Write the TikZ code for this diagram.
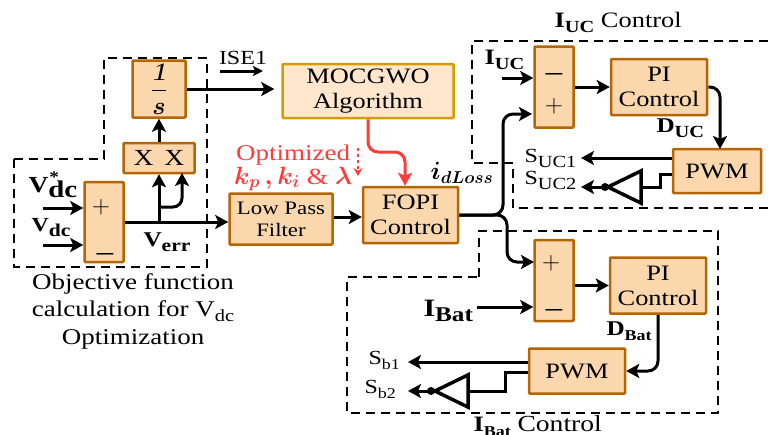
\documentclass[tikz,border=0pt]{standalone}
\usepackage{amsmath}
\usepackage{fontspec}
\setmainfont[FakeStretch=1.2]{Liberation Serif}
\usepackage{tikz}
\usetikzlibrary{positioning}
\usetikzlibrary{arrows.meta}
\usetikzlibrary{shapes.geometric}
\definecolor{boxfill}{HTML}{FAD7AC}
\definecolor{boxline}{HTML}{B46504}
\definecolor{algofill}{HTML}{FFE6CC}
\definecolor{algoline}{HTML}{D79B00}
\definecolor{optired}{HTML}{FF3B3B}
\newcommand{\boldsub}[4]{{\fontsize{#1}{#1}\selectfont\bfseries #3}\raisebox{-5pt}{\fontsize{#2}{#2}\selectfont\bfseries #4}}
\newcommand{\plainsub}[4]{{\fontsize{#1}{#1}\selectfont #3}\raisebox{-5pt}{\fontsize{#2}{#2}\selectfont #4}}
\tikzset{ctrl node/.style={rectangle,rounded corners=1pt,fill=boxfill,draw=boxline,line width=2.5pt,inner sep=0pt,align=center,font=\fontsize{22}{25}\selectfont},}
\tikzset{two line/.style={execute at begin node=\rule{0pt}{19pt}},}
\tikzset{algo node/.style={ctrl node,two line,fill=algofill,draw=algoline},}
\tikzset{label node/.style={inner sep=0pt,align=center,font=\fontsize{22.5}{27.5}\selectfont},}
\tikzset{sign node/.style={inner sep=0pt,font=\fontsize{32}{32}\selectfont},}
\tikzset{buffer node/.style={isosceles triangle,isosceles triangle apex angle=52,shape border rotate=180,draw,line width=3.5pt,minimum height=33pt,minimum width=32pt,inner sep=0pt,outer sep=0pt},}
\tikzset{boundary/.style={dash pattern=on 9pt off 6pt,line width=2.5pt},}
\begin{document}
\begin{tikzpicture}[x=1pt,y=-1pt,>={Stealth[length=13pt,width=14pt,inset=3pt]},line width=3pt]
    \useasboundingbox (0,0) rectangle (768,434);
    \clip (0,0) rectangle (768,434);

    % dashed regions
    \draw[boundary] (14,159) -- (104,159) -- (104,58) -- (207,58) -- (207,267) -- (14,267) -- cycle;
    \draw[boundary] (768,41) -- (472,41) -- (472,163) -- (513,163) -- (513,208) -- (768,208);
    \draw[boundary] (479,277) -- (479,231) -- (718,231) -- (718,413) -- (347,413) -- (347,277) -- cycle;

    % blocks
    \node[ctrl node,minimum width=39pt,minimum height=80pt] (sumdc) at (104,222) {};
    \node[ctrl node,minimum width=71pt,minimum height=30pt,font=\fontsize{23}{23}\selectfont] (mult) at (159,158) {X\hspace{11pt}X};
    \node[ctrl node,minimum width=53pt,minimum height=57pt,font=\fontsize{25}{25}\selectfont] (integ) [above = 23pt of mult] {$\dfrac{\mathit{1}}{\boldsymbol{s}}$};
    \node[ctrl node,two line,minimum width=103pt,minimum height=51pt,font=\fontsize{19}{22}\selectfont] (lpf) at (281,219) {Low Pass\\Filter};
    \node[ctrl node,two line,minimum width=95pt,minimum height=56pt] (fopi) [right = 28pt of lpf,yshift=4pt] {FOPI\\Control};
    \node[algo node,minimum width=171pt,minimum height=54pt] (mocgwo) at (368,91) {MOCGWO\\Algorithm};
    \node[ctrl node,minimum width=39pt,minimum height=81pt] (sumuc) at (554,87) {};
    \node[ctrl node,two line,minimum width=96pt,minimum height=56pt] (piuc) [right = 35pt of sumuc] {PI\\Control};
    \node[ctrl node,minimum width=88pt,minimum height=44pt] (pwmuc) at (717,171) {PWM};
    \node[ctrl node,minimum width=39pt,minimum height=81pt] (sumbat) [below = 110pt of sumuc] {};
    \node[ctrl node,two line,minimum width=96pt,minimum height=56pt] (pibat) [right = 34pt of sumbat,yshift=-5pt] {PI\\Control};
    \node[ctrl node,minimum width=96pt,minimum height=45pt] (pwmbat) at (577,371) {PWM};
    \node[buffer node,anchor=apex] (bufuc) at (608,187) {};
    \node[buffer node,anchor=apex] (bufbat) at (435,391) {};

    % signs
    \node[sign node] (plusdc) at (101,207) {$+$};
    \node[sign node] (minusdc) at (105,254) {$\boldsymbol{-}$};
    \node[sign node] (minusuc) at (554,74) {$\boldsymbol{-}$};
    \node[sign node] (plusuc) at (554,106) {$+$};
    \node[sign node] (plusbat) at (551,263) {$+$};
    \node[sign node] (minusbat) at (554,310) {$\boldsymbol{-}$};

    % labels
    \node[label node,anchor=west] (vdcstar) at (27,185) {\boldsub{23}{24}{V\rlap{\kern1pt\raisebox{10pt}{\fontsize{16}{16}\selectfont *}}}{dc}};
    \node[label node,anchor=west] (vdc) at (30,228) {\boldsub{20}{18}{V}{dc}};
    \node[label node,anchor=west] (verr) at (142,242) {\boldsub{21}{18}{V}{err}};
    \node[label node,font=\fontsize{20}{20}\selectfont] (ise) at (243,58) {ISE1};
    \node[label node] (objective) at (133,311) {Objective function\\calculation for \plainsub{22.5}{17}{V}{dc}\\Optimization};
    \node[label node,text=optired] (optimized) at (293,155) {Optimized};
    \node[label node,text=optired,font=\fontsize{23}{23}\selectfont] (gains) at (293,179) {$\boldsymbol{k_p\,,k_i}$ \& $\boldsymbol{\lambda}$};
    \node[label node,font=\fontsize{25}{25}\selectfont] (idloss) at (462,173) {$\boldsymbol{i_{dLoss}}$};
    \node[label node,anchor=west] (ucname) at (553,22) {\boldsub{22}{17}{I}{UC} \plainsub{22}{17}{Control}{}};
    \node[label node,anchor=west] (iuc) at (483,60) {\boldsub{22}{17}{I}{UC}};
    \node[label node,anchor=west] (duc) at (655,128) {\boldsub{21}{17}{D}{UC}};
    \node[label node,anchor=west] (suca) at (523,158) {\plainsub{20}{17}{S}{UC1}};
    \node[label node,anchor=west] (sucb) at (523,180) {\plainsub{20}{17}{S}{UC2}};
    \node[label node,anchor=west] (ibat) at (422,311) {\boldsub{25}{21}{I}{Bat}};
    \node[label node,anchor=west] (dbat) at (605,331) {\boldsub{21}{15}{D}{Bat}};
    \node[label node,anchor=west] (sba) at (367,360) {\plainsub{20}{15}{S}{b1}};
    \node[label node,anchor=west] (sbb) at (363,389) {\plainsub{20}{15}{S}{b2}};
    \node[label node,anchor=west] (batname) at (472,426) {\boldsub{22}{15}{I}{Bat} \plainsub{23}{15}{Control}{}};

    % free ends
    \coordinate (vdcstarin) at (43,208);
    \coordinate (vdcin) at (43,245);
    \coordinate (tap) at (159,207);
    \coordinate (multin) at (182,173);
    \coordinate (iseleft) at (220,71);
    \coordinate (iseright) at (263,71);
    \coordinate (redturn) at (368,152);
    \coordinate (redbend) at (405,152);
    \coordinate (hintup) at (358,148);
    \coordinate (hintdown) at (358,176);
    \coordinate (riseuc) at (503,215);
    \coordinate (dropbat) at (507,215);
    \coordinate (plusucin) at (532,114);
    \coordinate (plusbatin) at (534,262);
    \coordinate (iucin) at (502,78);
    \coordinate (ibatin) at (477,307);
    \coordinate (duct) at (720,87);
    \coordinate (ductail) at (720,149);
    \coordinate (sucaend) at (581,158);
    \coordinate (sucbend) at (581,187);
    \coordinate (sbaend) at (408,362);
    \coordinate (sbbend) at (408,391);
    \coordinate (pwmucout) at (660,174);
    \coordinate (pwmbatout) at (505,372);

    % connectors
    \draw[->] (vdcstarin) -- (vdcstarin -| sumdc.west);
    \draw[->] (vdcin) -- (vdcin -| sumdc.west);
    \draw[->] (sumdc.east) -- (lpf.west |- sumdc.east);
    \draw[->] (mult.south |- sumdc.east) -- (mult.south);
    \draw[->,rounded corners=9pt] (tap) -- (tap -| multin) -- (multin);
    \draw[->] (mult.north) -- (integ.south);
    \draw[->,shorten >=7pt] (integ.east) -- (mocgwo.west |- integ.east);
    \draw[->,>={Stealth[length=10pt,width=10pt,inset=2pt]}] (iseleft) -- (iseright);
    \draw[->] (lpf.east |- 0,217) -- (fopi.west |- 0,217);
    \draw[->,optired,rounded corners=10pt] (mocgwo.south -| redturn) -- (redturn) -- (redbend) -- (redbend |- fopi.north);
    \draw[->,optired,dashed,line width=2pt,>={Stealth[length=8pt,width=9pt]}] (hintup) -- (hintdown);
    \draw[->,rounded corners=10pt] (fopi.east) -- (riseuc) -- (riseuc |- plusucin) -- (plusucin);
    \draw[->,rounded corners=10pt] (fopi.east) -- (dropbat) -- (dropbat |- plusbatin) -- (plusbatin);
    \draw[->] (iucin) -- (iucin -| sumuc.west);
    \draw[->] (sumuc.east) -- (piuc.west);
    \draw[->,rounded corners=10pt] (piuc.east) -- (duct) -- (ductail);
    \draw[->] (pwmuc.west |- sucaend) -- (sucaend);
    \draw (pwmuc.west |- pwmucout) -- (pwmucout) -- (pwmucout |- bufuc.lower side) -- (bufuc.lower side);
    \draw[->] (bufuc.apex) -- (sucbend);
    \fill (605,187) circle (4pt);
    \draw[->] (ibatin) -- (ibatin -| sumbat.west);
    \draw[->] (sumbat.east |- pibat.west) -- (pibat.west);
    \draw[->,rounded corners=10pt] (pibat.south) -- (pibat.south |- pwmbat.east) -- (pwmbat.east);
    \draw[->] (pwmbat.west |- sbaend) -- (sbaend);
    \draw (pwmbat.west |- pwmbatout) -- (pwmbatout) -- (pwmbatout |- bufbat.lower side) -- (bufbat.lower side);
    \draw[->] (bufbat.apex) -- (sbbend);
    \fill (431,391) circle (4pt);
\end{tikzpicture}
\end{document}
